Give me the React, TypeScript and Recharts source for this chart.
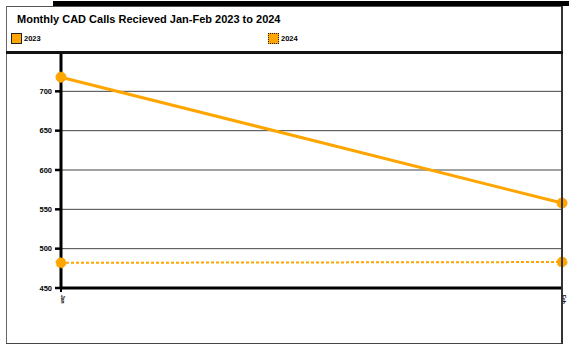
import React from 'react';
import { LineChart, Line, XAxis, YAxis, CartesianGrid } from 'recharts';

const months = ['Jan', 'Feb'];
const calls2023 = [718, 558];
const calls2024 = [482, 483];
const yTicks = [450, 500, 550, 600, 650, 700];
const yDomain = [450, 750];
const title = 'Monthly CAD Calls Recieved Jan-Feb 2023 to 2024';
const seriesNames = ['2023', '2024'];

const ORANGE = '#FFA500';
const FONT = '"Liberation Sans", Arial, sans-serif';

const data = months.map((m, i) => ({ month: m, y2023: calls2023[i], y2024: calls2024[i] }));

const XTick = (props: any) => {
  const { x, y, payload } = props;
  return (
    <g transform={`translate(${x + 1},${y + 1})`}>
      <text transform="rotate(90)" x={0} y={0} dy={1.5} fontSize={5} fontWeight="bold" fill="#000" fontFamily={FONT} textAnchor="start">
        {payload.value}
      </text>
    </g>
  );
};

const line = (style: React.CSSProperties) => <div style={{ position: 'absolute', ...style }} />;

export default function App() {
  return (
    <div style={{ position: 'absolute', top: 0, left: 0, width: 569, height: 346, background: '#fff', fontFamily: FONT }}>
      <LineChart width={569} height={346} data={data} margin={{ top: 52, right: 7, bottom: 0, left: 0 }}>
        <CartesianGrid vertical={false} stroke="#444" strokeWidth={1} horizontalValues={[500, 550, 600, 650, 700]} />
        <XAxis
          dataKey="month"
          height={58}
          padding={{ left: 0, right: 0 }}
          axisLine={{ stroke: '#000', strokeWidth: 3 }}
          tickLine={{ stroke: '#000', strokeWidth: 2 }}
          tickSize={4}
          tick={<XTick />}
          interval={0}
        />
        <YAxis
          width={61}
          domain={yDomain}
          ticks={yTicks}
          allowDataOverflow
          axisLine={{ stroke: '#000', strokeWidth: 3 }}
          tickLine={{ stroke: '#000', strokeWidth: 2.5 }}
          tickSize={6}
          tickMargin={3}
          tick={{ fontSize: 7.5, fontWeight: 'bold', fill: '#000', fontFamily: FONT }}
        />
        <Line
          dataKey="y2023"
          name={seriesNames[0]}
          stroke={ORANGE}
          strokeWidth={3}
          dot={{ r: 5, fill: ORANGE, stroke: ORANGE, strokeWidth: 1 }}
          isAnimationActive={false}
        />
        <Line
          dataKey="y2024"
          name={seriesNames[1]}
          stroke={ORANGE}
          strokeWidth={2}
          strokeDasharray="3 2"
          dot={{ r: 5, fill: ORANGE, stroke: ORANGE, strokeWidth: 1 }}
          isAnimationActive={false}
        />
      </LineChart>
      {/* frame */}
      {line({ left: 53, top: 1, width: 516, height: 5, background: '#000' })}
      {line({ left: 6, top: 6, width: 557, height: 1, background: '#555' })}
      {line({ left: 6, top: 6, width: 1, height: 338, background: '#666' })}
      {line({ left: 6, top: 343, width: 557, height: 1, background: '#444' })}
      {line({ left: 561, top: 6, width: 2, height: 338, background: '#333' })}
      {line({ left: 6, top: 51, width: 557, height: 3, background: '#111' })}
      <div style={{ position: 'absolute', left: 17, top: 13, fontSize: 11, fontWeight: 'bold', color: '#000', whiteSpace: 'nowrap' }}>
        {title}
      </div>
      <div style={{ position: 'absolute', left: 11, top: 33, display: 'flex', alignItems: 'center' }}>
        <div style={{ width: 9, height: 9, background: ORANGE, border: '1px solid #222' }} />
        <span style={{ fontSize: 7.5, fontWeight: 'bold', marginLeft: 2, color: '#000' }}>{seriesNames[0]}</span>
      </div>
      <div style={{ position: 'absolute', left: 268, top: 33, display: 'flex', alignItems: 'center' }}>
        <div style={{ width: 9, height: 9, background: ORANGE, border: '1px dotted #222' }} />
        <span style={{ fontSize: 7.5, fontWeight: 'bold', marginLeft: 2, color: '#000' }}>{seriesNames[1]}</span>
      </div>
    </div>
  );
}
